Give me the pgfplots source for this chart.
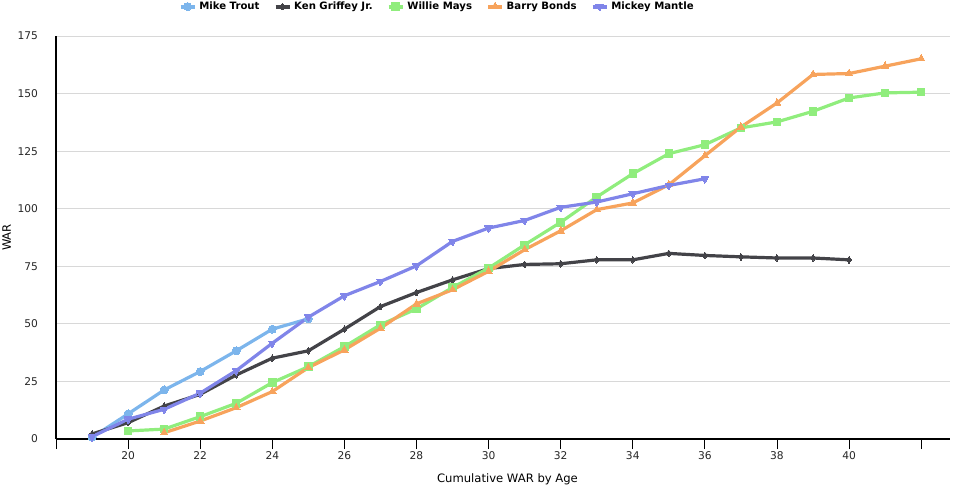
\documentclass[border=0pt]{standalone}
\usepackage{pgfplots}
\pgfplotsset{compat=1.18}
\usepackage{fontspec}
\setmainfont{DejaVu Sans}
\definecolor{cTrout}{HTML}{7CB5EC}
\definecolor{cGriffey}{HTML}{434348}
\definecolor{cMays}{HTML}{90ED7D}
\definecolor{cBonds}{HTML}{F7A35C}
\definecolor{cMantle}{HTML}{8085E9}
\definecolor{gridc}{HTML}{D8D8D8}
\begin{document}
\begin{tikzpicture}
\useasboundingbox (0pt,0pt) rectangle (720pt,364.5pt);
\begin{axis}[
  at={(42pt,35.25pt)}, anchor=south west,
  scale only axis, width=670.5pt, height=302.25pt,
  xmin=18, xmax=42.8, ymin=0, ymax=175,
  axis lines*=left,
  axis line style={black, line width=0.8pt, -},
  xtick={18,20,...,42},
  xticklabels={,20,22,24,26,28,30,32,34,36,38,40,},
  xtick style={black, line width=0.6pt},
  xtick align=outside, major tick length=7.5pt,
  ytick={0,25,...,175},
  ytick style={draw=none},
  ymajorgrids, grid style={gridc, line width=0.6pt},
  tick label style={font=\fontsize{8}{9}\selectfont, text=black!85},
  /pgf/number format/assume math mode=true,
  yticklabel style={xshift=-10pt},
  xticklabel style={yshift=1.5pt},
  xlabel={Cumulative WAR by Age},
  ylabel={WAR},
  label style={font=\fontsize{8.7}{10}\selectfont},
  xlabel style={at={(0.505,0)}, anchor=center, yshift=-30pt},
  ylabel style={at={(0,0.5)}, anchor=center, yshift=37pt},
  legend columns=5,
  legend style={at={(0.4267,1.073)}, anchor=center, draw=none, fill=none,
    inner sep=0pt,
    font=\bfseries\fontsize{7.6}{9}\selectfont,
    /tikz/every even column/.append style={column sep=8.5pt}},
  legend image code/.code={
    \draw[#1, mark=none, line width=3pt] (0pt,0pt) -- (10.5pt,0pt);
    \path[#1, line width=0pt] plot coordinates {(5.25pt,0pt)};
  },
  every axis plot/.append style={line width=2.4pt, line join=round, mark size=3pt},
  clip=false,
]
\addplot[cTrout, mark=*, mark options={solid, line width=0pt}] coordinates {
(19,0.7) (20,10.9) (21,21.3) (22,29.3) (23,38.3) (24,47.7) (25,52.2)};
\addlegendentry{Mike Trout}
\addplot[cGriffey, mark=diamond*, mark size=2.5pt, mark options={solid, line width=0pt}] coordinates {
(19,2.2) (20,7.1) (21,14.3) (22,19.4) (23,27.8) (24,35.1) (25,38.3) (26,47.7)
(27,57.5) (28,63.6) (29,69.1) (30,74.0) (31,75.8) (32,76.1) (33,77.8) (34,77.8)
(35,80.6) (36,79.7) (37,79.1) (38,78.6) (39,78.6) (40,77.8)};
\addlegendentry{Ken Griffey Jr.}
\addplot[cMays, mark=square*, mark size=2.8pt, mark options={solid, line width=0pt}] coordinates {
(20,3.5) (21,4.3) (22,9.7) (23,15.5) (24,24.5) (25,31.4) (26,40.1) (27,49.6)
(28,56.5) (29,65.8) (30,74.2) (31,84.3) (32,94.1) (33,105.1) (34,115.2)
(35,123.9) (36,127.8) (37,135.1) (38,137.7) (39,142.3) (40,148.1) (41,150.3) (42,150.6)};
\addlegendentry{Willie Mays}
\addplot[cBonds, mark=triangle*, mark size=3.3pt, mark options={solid, line width=0pt}] coordinates {
(21,2.7) (22,7.8) (23,13.6) (24,20.6) (25,31.0) (26,38.7) (27,48.1) (28,58.7)
(29,64.8) (30,72.8) (31,82.2) (32,90.4) (33,99.6) (34,102.5) (35,110.4)
(36,123.0) (37,135.5) (38,145.9) (39,158.3) (40,158.7) (41,161.9) (42,165.1)};
\addlegendentry{Barry Bonds}
\addplot[cMantle, mark=triangle*, mark size=3.3pt, mark options={solid, line width=0pt, rotate=180}] coordinates {
(19,1.0) (20,8.6) (21,12.9) (22,19.9) (23,29.7) (24,41.6) (25,52.9) (26,62.2)
(27,68.4) (28,75.2) (29,85.8) (30,91.6) (31,94.9) (32,100.6) (33,102.9)
(34,106.5) (35,110.1) (36,113.0)};
\addlegendentry{Mickey Mantle}
\end{axis}
\end{tikzpicture}
\end{document}
